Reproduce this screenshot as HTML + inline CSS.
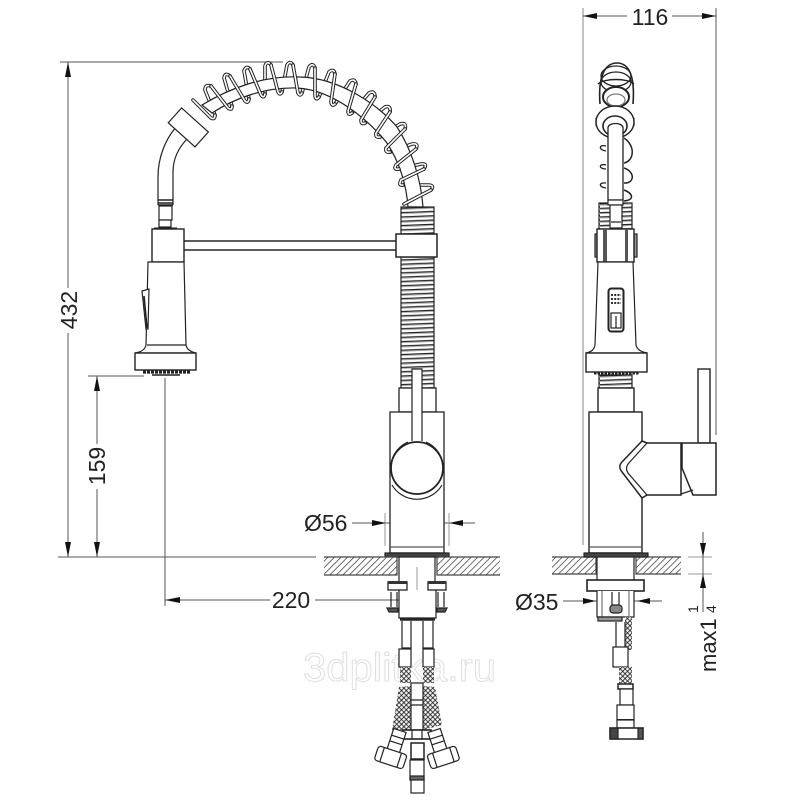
<!DOCTYPE html>
<html><head><meta charset="utf-8"><style>
html,body{margin:0;padding:0;background:#fff}
svg{display:block}
text{font-family:"Liberation Sans",sans-serif;fill:#222}
</style></head><body>
<svg width="800" height="800" viewBox="0 0 800 800" xmlns="http://www.w3.org/2000/svg">
<defs>
<pattern id="hatch" width="4.6" height="4.6" patternUnits="userSpaceOnUse" patternTransform="rotate(45)"><rect width="4.6" height="4.6" fill="#fff"/><line x1="0" y1="0" x2="0" y2="4.6" stroke="#222" stroke-width="1.3"/></pattern>
<pattern id="mesh" width="3.4" height="3.4" patternUnits="userSpaceOnUse" patternTransform="rotate(45)"><rect width="3.4" height="3.4" fill="#eee"/><path d="M0 0H3.4M0 0V3.4" stroke="#111" stroke-width="1.5"/></pattern>
<pattern id="thread" width="40" height="4.3" patternUnits="userSpaceOnUse" patternTransform="translate(400 257)"><rect width="40" height="4.3" fill="#fff"/><path d="M0 3L40 1.4" stroke="#222" stroke-width="1.2"/><path d="M0 4.2L40 2.6" stroke="#888" stroke-width=".6"/></pattern>
</defs>

<!-- watermark -->
<text x="303" y="681" font-size="40" textLength="193" lengthAdjust="spacingAndGlyphs" style="fill:#fff;stroke:#dfdfdf;stroke-width:1">3dplitka.ru</text>

<g fill="none" stroke="#222" stroke-width="1.2">
<!-- dimension thin lines -->
<g stroke="#555" stroke-width="1">
<path d="M60 62H283M58 557H316M68 62V288M68 333V557"/>
<path d="M88 376H144M97 376V444M97 489V557"/>
<path d="M165 378V606M165 600H270M315 600H417"/>
<path d="M417 567V610" stroke="#999"/>
<path d="M352 523H386M386 523H449M449 523H475"/>
<path d="M385 513V546M449 513V546" stroke="#999"/>
<path d="M583 8V545" stroke="#888"/><path d="M716 8V435" stroke="#555"/>
<path d="M583 16H627M672 16H716"/>
<path d="M563 601H662"/>
<path d="M688 557H712M688 574H712" stroke="#999"/>
<path d="M703 532V612"/>
</g>
<!-- arrowheads -->
<g fill="#111" stroke="none">
<path d="M68 62L65 77H71Z"/><path d="M68 557L65 542H71Z"/>
<path d="M97 376L94 391H100Z"/><path d="M97 557L94 542H100Z"/>
<path d="M165 600L180 597V603Z"/><path d="M417 600L403 597V603Z"/>
<path d="M386 523L372 520V526Z"/><path d="M449 523L463 520V526Z"/>
<path d="M583 16L597 13V19Z"/><path d="M716 16L702 13V19Z"/>
<path d="M596 601L583 598V604Z"/><path d="M637 601L650 598V604Z"/>
<path d="M703 557L700 543H706Z"/><path d="M703 574L700 588H706Z"/>
</g>

<!-- FRONT VIEW: lower goose neck -->
<path d="M158 205V177C158 158 165 140 176 127" fill="#fff"/>
<path d="M173 205V172C173 158 179 147 188 138" fill="#fff"/>
<path d="M158 200H173M158 203H173M158 205H173" stroke-width="1.4"/>
<rect x="159" y="206" width="13" height="14" fill="#fff"/>
<rect x="159" y="220" width="12" height="7" fill="#fff"/>
<path d="M154 229H177" stroke-width="3"/>

<!-- coil: back strands -->
<path d="M215 115L205 90Q205 84 211 86M232 106L224 78Q225 72 230 76M249 99L244 71Q246 65 250 69M265 94L265 66Q267 60 271 65M282 92L287 65Q290 60 293 65M302 93L309 67Q313 62 315 68M319 97L329 72Q334 68 335 74M335 104L350 81Q355 78 356 84M352 113L369 93Q375 90 375 97M365 123L385 107Q391 105 390 112M380 137L400 124Q407 122 405 129M390 152L412 144Q419 143 416 149M399 169L421 164Q428 163 424 169M403 185L428 185Q435 185 431 190" stroke="#222" stroke-width="3.6" stroke-linecap="round"/>
<path d="M215 115L205 90Q205 84 211 86M232 106L224 78Q225 72 230 76M249 99L244 71Q246 65 250 69M265 94L265 66Q267 60 271 65M282 92L287 65Q290 60 293 65M302 93L309 67Q313 62 315 68M319 97L329 72Q334 68 335 74M335 104L350 81Q355 78 356 84M352 113L369 93Q375 90 375 97M365 123L385 107Q391 105 390 112M380 137L400 124Q407 122 405 129M390 152L412 144Q419 143 416 149M399 169L421 164Q428 163 424 169M403 185L428 185Q435 185 431 190" stroke="#fff" stroke-width="1.6" stroke-linecap="round"/>
<!-- hose -->
<path d="M423 207C421 180 412 150 397 127C378 105 340 78 300 77C265 75 230 88 202 105L212 113C235 98 265 87 297 88C335 90 370 122 387 143C398 160 406 180 408 207Z" fill="#fff"/>
<!-- coil: front strands -->
<path d="M193 100L211 118Q215 120 215 115M211 86L228 108Q232 111 232 106M230 76L245 101Q248 104 249 99M250 69L261 95Q264 99 265 94M271 65L278 92Q280 96 282 92M293 65L298 93Q300 97 302 93M315 68L315 96Q316 101 319 97M335 74L331 102Q332 107 335 104M356 84L348 111Q348 116 352 113M375 97L361 120Q361 125 365 123M390 112L376 133Q375 138 380 137M405 129L386 148Q385 153 390 152M416 149L396 165Q393 170 399 169M424 169L401 180Q398 186 403 185M431 190L404 204" stroke="#222" stroke-width="3.6" stroke-linecap="round"/>
<path d="M193 100L211 118Q215 120 215 115M211 86L228 108Q232 111 232 106M230 76L245 101Q248 104 249 99M250 69L261 95Q264 99 265 94M271 65L278 92Q280 96 282 92M293 65L298 93Q300 97 302 93M315 68L315 96Q316 101 319 97M335 74L331 102Q332 107 335 104M356 84L348 111Q348 116 352 113M375 97L361 120Q361 125 365 123M390 112L376 133Q375 138 380 137M405 129L386 148Q385 153 390 152M416 149L396 165Q393 170 399 169M424 169L401 180Q398 186 403 185M431 190L404 204" stroke="#fff" stroke-width="1.6" stroke-linecap="round"/>
<rect x="-14" y="-9" width="36" height="20" transform="translate(186 124) rotate(42)" fill="#fff"/>
<!-- threads -->
<rect x="401" y="207" width="33" height="27" fill="url(#thread)" stroke="#222"/>
<rect x="401" y="257" width="33" height="131" fill="url(#thread)" stroke="#222"/>
<!-- bar + blocks -->
<path d="M183 241H396M183 250H396" stroke="#444" stroke-width="1.8"/>
<rect x="396" y="234" width="41" height="23" fill="#fff" stroke-width="1.5"/>
<rect x="152" y="229" width="32" height="33" fill="#fff" stroke-width="1.4"/>
<!-- handset -->
<path d="M148 262H184L186 345C187 350 191 352 196 353H135C141 352 145 350 146 345Z" fill="#fff"/>
<path d="M147 345H186" />
<rect x="135" y="353" width="61" height="17" fill="#fff" stroke-width="1.4"/>
<path d="M143 372H190" stroke-width="3.2" stroke-dasharray="3 1"/>
<path d="M152 375H180" stroke-width="1.6"/>
<path d="M142 291L149 289L148 329H146Z" fill="#fff"/><path d="M144 296L147 328" stroke-width="1.6"/>
<!-- front body -->
<rect x="399" y="388" width="37" height="24" fill="#fff" stroke-width="1.3"/>
<rect x="390" y="412" width="54" height="141" fill="#fff" stroke-width="1.3"/>
<path d="M391 470A28 28 0 0 1 408 442M426 442A28 28 0 0 1 443 470M392 485A29 29 0 0 0 442 485"/>
<circle cx="417" cy="468" r="26" fill="#fff" stroke-width="1.8"/>
<path d="M412 441V369H422V441" fill="#fff"/>
<path d="M390 547H444" stroke="#555"/>
<rect x="385" y="553" width="64" height="4" fill="#444"/>

<!-- counter tops -->
<rect x="324" y="557" width="73" height="18" fill="url(#hatch)" stroke="none"/>
<rect x="437" y="557" width="63" height="18" fill="url(#hatch)" stroke="none"/>
<path d="M324 557H397V575H324M500 557H437V575H500" stroke="#444"/>
<path d="M399 557V582M435 557V582"/>
<rect x="552" y="557" width="44" height="17" fill="url(#hatch)" stroke="none"/>
<rect x="636" y="557" width="45" height="17" fill="url(#hatch)" stroke="none"/>
<path d="M552 557H596V574H552M681 557H636V574H681" stroke="#444"/>
<path d="M597 557V580M634 557V580"/>

<!-- front under mount -->
<path d="M399 590V618H436V590" fill="#fff"/>
<path d="M400 619.500H435" stroke-width="2.6"/>
<rect x="388" y="582" width="19" height="8" fill="#fff" stroke-width="1.3"/><rect x="388" y="581" width="19" height="3" fill="#333" stroke="none"/>
<rect x="428" y="582" width="18" height="8" fill="#fff" stroke-width="1.3"/><rect x="428" y="581" width="18" height="3" fill="#333" stroke="none"/>
<path d="M391 592V607M397 592V607M438 592V607M444 592V607"/>
<path d="M387 608H398V612H389Z" fill="#555"/><path d="M437 608H447L445 612H437Z" fill="#555"/>
<path d="M402 621V648H411V621M423 621V648H433V621" fill="#fff"/>
<rect x="399" y="649" width="12" height="18" fill="#fff"/><rect x="423" y="649" width="11" height="18" fill="#fff"/>
<rect x="400" y="667" width="11" height="16" fill="url(#mesh)" stroke="none"/>
<rect x="423" y="667" width="11" height="16" fill="url(#mesh)" stroke="none"/>
<path d="M399 687L411 686V730H392Z" fill="url(#mesh)" stroke="none"/>
<path d="M423 686L435 687L442 725L423 730Z" fill="url(#mesh)" stroke="none"/>
<path d="M411 683H423V730H411Z M411 700H423M411 705H423" fill="#fff"/>
<rect x="403" y="730" width="28" height="9" fill="#fff" stroke-width="1.6"/>
<path d="M412 730V739M422 730V739"/>
<!-- elbows -->
<g transform="translate(392 750) rotate(18)"><rect x="-5" y="-21" width="13" height="22" fill="#fff"/><path d="M-5 -14H8M-5 -8H8"/><rect x="-14" y="0" width="30" height="15" rx="3" fill="#fff"/><path d="M-8 0V15M10 0V15"/></g>
<g transform="translate(442 750) rotate(-18)"><rect x="-8" y="-21" width="13" height="22" fill="#fff"/><path d="M-8 -14H5M-8 -8H5"/><rect x="-16" y="0" width="30" height="15" rx="3" fill="#fff"/><path d="M-10 0V15M8 0V15"/></g>
<!-- centre lower -->
<rect x="411" y="743" width="13" height="16" fill="#fff" stroke-width="1.5"/>
<rect x="410" y="760" width="14" height="20" fill="#fff"/>
<rect x="410" y="776" width="14" height="4" fill="#666"/>
<rect x="411" y="780" width="13" height="13" fill="#fff"/>

<!-- SIDE VIEW: top -->
<path d="M600 104C598 78 604 63 617 63C630 63 635 78 633 104" stroke-width="1.6" fill="#fff"/>
<ellipse cx="616" cy="76" rx="15" ry="10" stroke-width="1.3"/>
<ellipse cx="616" cy="82" rx="15" ry="10" stroke-width="1.3"/>
<ellipse cx="616" cy="97" rx="13" ry="10" fill="#fff" stroke-width="2"/>
<ellipse cx="616" cy="100" rx="9" ry="6" stroke="#777"/>
<path d="M598 84C604 78 628 78 634 84" stroke-width="1.4"/>
<ellipse cx="615" cy="122" rx="19" ry="16" fill="#fff" stroke-width="1.4"/>
<path d="M596 118V126M634 118V126"/>
<ellipse cx="615" cy="126" rx="12" ry="10" fill="#fff" stroke-width="1.6"/>
<path d="M606 146C599 144 598 150 606 151M606 165C599 163 598 169 606 169M606 183C599 182 598 187 606 188" stroke-width="1.3"/>
<path d="M624 138C636 146 634 161 624 163M624 168C636 172 634 184 624 183M624 190C634 194 634 200 624 201" stroke-width="1.5"/>
<rect x="599" y="203" width="33" height="26" fill="url(#thread)" stroke="#222"/>
<path d="M608 200V128C608 122 623 122 623 128V200Z" fill="#fff" stroke-width="1.3"/>
<rect x="608" y="200" width="15" height="5" fill="#fff"/>
<rect x="610" y="205" width="12" height="23" fill="#fff"/><path d="M610 222H622" stroke="#777" stroke-width="2"/>
<!-- side block -->
<rect x="595" y="234" width="2.5" height="23" fill="#999"/><rect x="634" y="234" width="3" height="23" fill="#999"/>
<rect x="597" y="229" width="37" height="33" fill="#fff" stroke-width="1.4"/>
<rect x="603" y="229" width="4" height="33" fill="#555" stroke="none"/>
<rect x="625" y="229" width="3" height="33" fill="#555" stroke="none"/>
<path d="M598 262H633L636 345C637 350 642 352 647 353H586C591 352 594 350 595 345Z" fill="#fff"/>
<rect x="586" y="353" width="61" height="19" fill="#fff" stroke-width="1.4"/>
<rect x="608.500" y="288.500" width="15" height="43" rx="3" fill="#fff" stroke-width="2"/>
<path d="M611 295H621M611 299H621M611 303H621" stroke="#333" stroke-width="2" stroke-dasharray="2 1.2"/>
<rect x="611" y="313" width="10" height="15" fill="#fff"/><path d="M616 316V328"/>
<path d="M594 373H639" stroke-width="3" stroke-dasharray="2.500 1"/>
<rect x="599" y="375" width="33" height="13" fill="url(#thread)" stroke="#222"/>
<rect x="598" y="388" width="36" height="24" fill="#fff" stroke-width="1.4"/>
<rect x="589" y="412" width="53" height="141" fill="#fff" stroke-width="1.4"/>
<path d="M589 547H642" stroke="#555"/>
<rect x="584" y="553" width="64" height="4" fill="#444"/>
<!-- side lever -->
<rect x="698" y="369" width="12" height="74" fill="#fff" stroke-width="1.4"/>
<path d="M642 441L647 443H681V495H647L642 498L622 472C619 468 619 465 622 462Z" fill="#fff" stroke-width="1.5"/>
<path d="M647 443L628 464C626 467 626 470 628 473L647 495"/>
<path d="M682 443H716V495H693L682 468Z" fill="#fff" stroke-width="1.5"/>
<path d="M681 494L693 490"/>
<!-- side under mount -->
<rect x="587" y="580" width="57" height="11" fill="#fff" stroke-width="1.6"/>
<path d="M597 591V617H634V591" fill="#fff"/>
<path d="M602 591V617M629 591V617" stroke="#777"/>
<path d="M612 592V605M619 592V605"/>
<rect x="610" y="605" width="12" height="8" rx="3" fill="#888"/>
<rect x="598" y="617" width="24" height="4" fill="#999"/>
<rect x="625" y="617" width="7" height="33" fill="url(#mesh)" stroke="none"/>
<path d="M616 622V647M625 622V647"/>
<rect x="613" y="647" width="15" height="20" fill="#fff"/>
<rect x="619" y="667" width="13" height="17" fill="url(#mesh)" stroke="none"/>
<rect x="618" y="684" width="15" height="5" fill="#fff" stroke-width="1.5"/>
<rect x="620" y="689" width="13" height="16" fill="#fff"/>
<rect x="617" y="705" width="17" height="15" fill="#fff"/>
<path d="M617 720H634" stroke-width="2"/>
<rect x="617" y="720" width="17" height="8" fill="#fff"/>
<rect x="610" y="728" width="33" height="11" fill="#fff" stroke-width="1.5"/>
<rect x="610" y="728" width="8" height="11" fill="#444"/><rect x="638" y="728" width="5" height="11" fill="#555"/>
</g>

<!-- labels -->
<text x="0" y="0" font-size="23" text-anchor="middle" transform="translate(77 310) rotate(-90)">432</text>
<text x="0" y="0" font-size="23" text-anchor="middle" transform="translate(105 466) rotate(-90)">159</text>
<text x="291" y="608" font-size="23" text-anchor="middle">220</text>
<text x="304" y="531" font-size="23">Ø56</text>
<text x="650" y="25" font-size="23" text-anchor="middle">116</text>
<text x="515" y="610" font-size="23">Ø35</text>
<text x="0" y="0" font-size="22" transform="translate(716 672) rotate(-90)">max1</text>
<text x="0" y="0" font-size="14" transform="translate(698 613) rotate(-90)">1</text>
<text x="0" y="0" font-size="14" transform="translate(716 613) rotate(-90)">4</text>
</svg>
</body></html>
